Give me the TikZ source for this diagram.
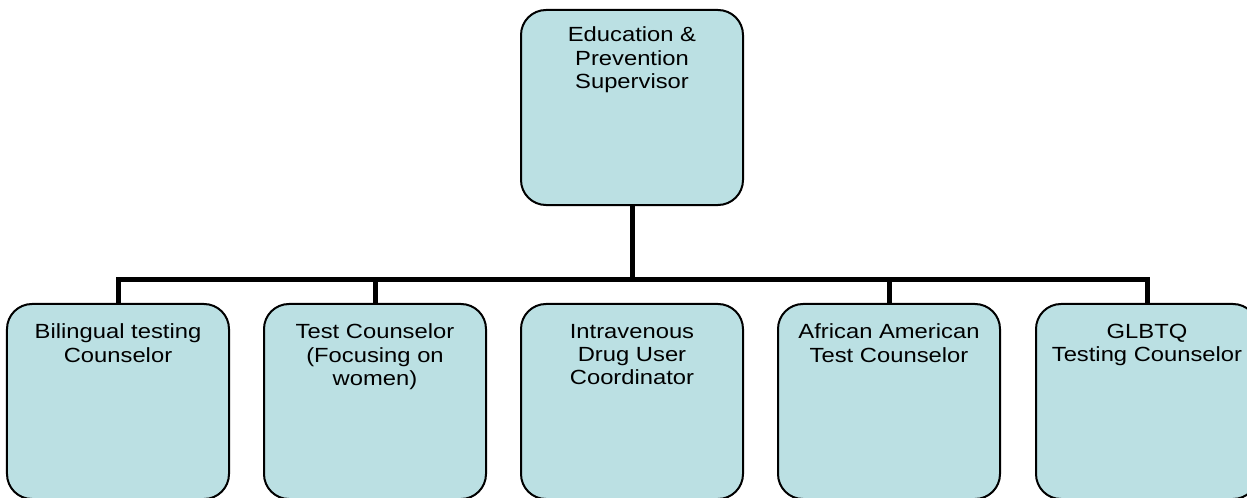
\documentclass[tikz,border=0pt]{standalone}
\usepackage{fontspec}
\setmainfont{Liberation Sans}[FakeStretch=1.16]
\definecolor{boxfill}{HTML}{BBE0E3}
\newcommand\boxtext[2]{\parbox[c][195bp][t]{220bp}{\fontsize{20.5bp}{23.3bp}\selectfont\parskip=0pt\centering\vspace*{#1}#2\par}}
\begin{document}
\begin{tikzpicture}[x=1bp,y=-1bp,
  box/.style={draw=black, line width=2bp, fill=boxfill, rounded corners=25bp,
    minimum width=222bp, minimum height=195bp, inner sep=0pt, anchor=north},
  link/.style={line width=5bp}]
\useasboundingbox (0,0) rectangle (1247,498);
\node[box] (sup) at (632,9) {\boxtext{17bp}{Education \&\\Prevention\\Supervisor}};
\node[box] (b1) at (118,303) {\boxtext{20bp}{Bilingual testing\\Counselor}};
\node[box] (b2) at (375,303) {\boxtext{20bp}{Test Counselor\\(Focusing on\\women)}};
\node[box] (b3) at (632,303) {\boxtext{20bp}{Intravenous\\Drug User\\Coordinator}};
\node[box] (b4) at (889,303) {\boxtext{20bp}{African American\\Test Counselor}};
\node[box] (b5) at (1147,303) {\boxtext{20bp}{GLBTQ\\Testing Counselor}};
\coordinate (bus) at (632,280);
\draw[link] (sup.south) -- (bus);
\draw[link] (b1.north) |- (bus) -| (b5.north);
\draw[link] (b2.north) -- (b2.north |- bus);
\draw[link] (b4.north) -- (b4.north |- bus);
\end{tikzpicture}
\end{document}
